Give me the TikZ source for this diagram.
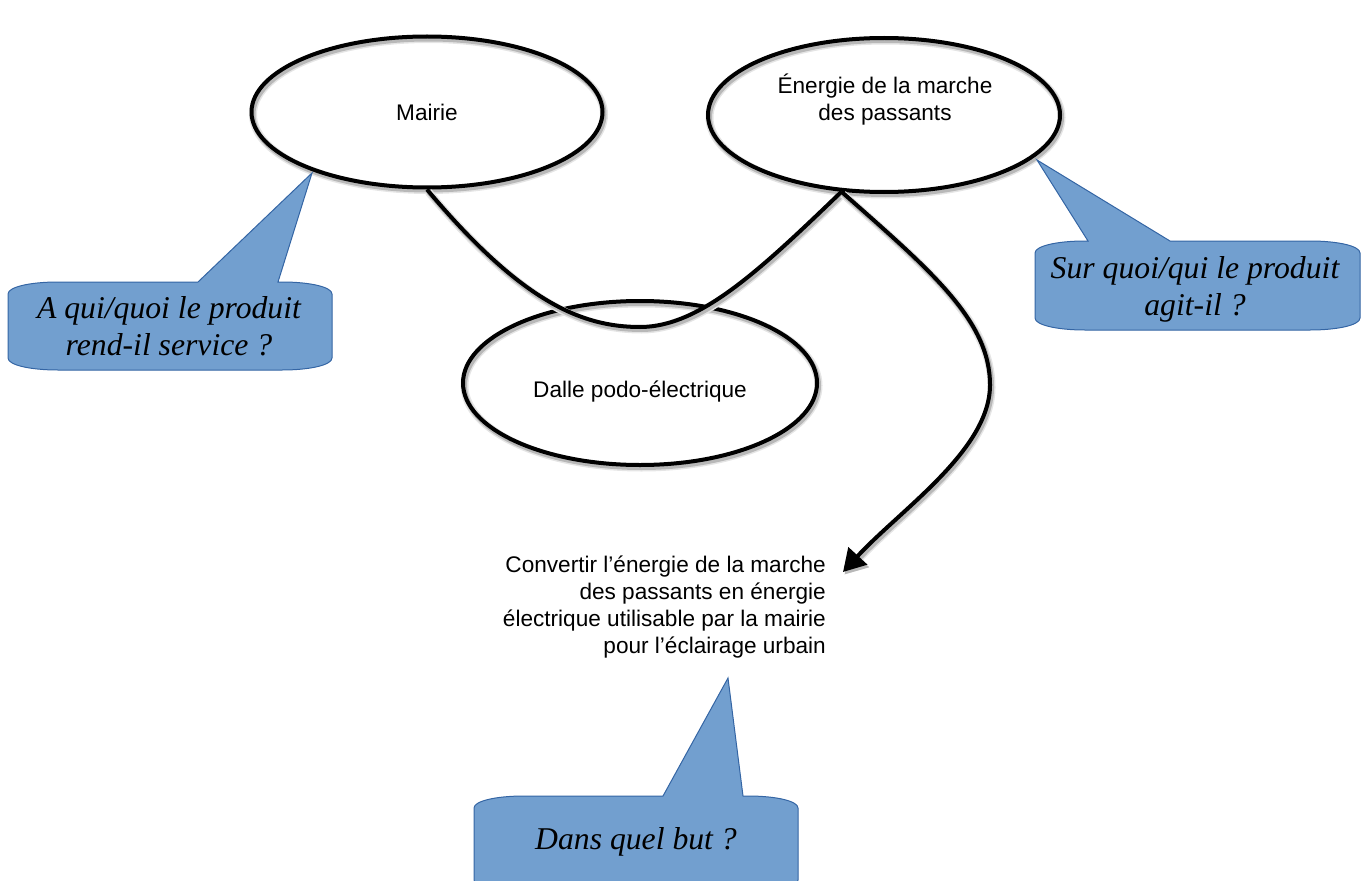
\documentclass[tikz,border=0pt]{standalone}
\usepackage{fontspec}
\setmainfont{Liberation Serif}
\setsansfont{Liberation Sans}
\usetikzlibrary{shapes.geometric, arrows.meta}

\definecolor{bubblefill}{HTML}{729FCF}
\definecolor{bubbleline}{HTML}{3465A4}

% Speech bubble: box (x1,y1)-(x2,y2) with soft corners and a pointer
% whose base runs from bx1 to bx2 on the top edge and whose tip is a named coordinate.
\newcommand{\speechbubble}[7]{%
  \path[bubble] (#1+50,#2) -- (#5,#2) -- (#7) -- (#6,#2) -- (#3-50,#2)
    .. controls (#3-22,#2) and (#3,#2+5) .. (#3,#2+12)
    -- (#3,#4-12)
    .. controls (#3,#4-5) and (#3-22,#4) .. (#3-50,#4)
    -- (#1+50,#4)
    .. controls (#1+22,#4) and (#1,#4-5) .. (#1,#4-12)
    -- (#1,#2+12)
    .. controls (#1,#2+5) and (#1+22,#2) .. cycle;}

\begin{document}
\begin{tikzpicture}[
    x=1pt, y=-1pt,
    softshadow/.style={
      preaction={draw=black!10, line width=8pt, transform canvas={xshift=1.5pt, yshift=-2.5pt}},
      preaction={draw=black!28, line width=5pt, transform canvas={xshift=1.5pt, yshift=-2.5pt}}},
    oval/.style={ellipse, softshadow, draw=black, line width=4pt, inner sep=0pt},
    ovaltext/.style={font=\sffamily\fontsize{22.6}{27}\selectfont, align=center, inner sep=0pt, text=black},
    link/.style={softshadow, draw=black, line width=4pt},
    bubble/.style={fill=bubblefill, draw=bubbleline, line width=1pt},
    bubbletext/.style={font=\rmfamily\itshape\fontsize{31.7}{37}\selectfont, align=center, inner sep=0pt}
  ]
  \useasboundingbox (0,0) rectangle (1364,880);

  % the three entities
  \node[oval, minimum width=351pt, minimum height=151pt] (mairie) at (427,112) {};
  \node[oval, minimum width=352pt, minimum height=154pt] (energie) at (884,115) {};
  \node[oval, minimum width=354pt, minimum height=164pt] (dalle) at (640,383) {};

  \node[ovaltext] (mairieText) at (427,112) {Mairie};
  \node[ovaltext] (energieText) at (885,100) {Énergie de la marche\\des passants};
  \node[ovaltext] (dalleText) at (640,392) {Dalle podo-électrique};

  % function of the product
  \node[ovaltext, align=right, anchor=east] (goal) at (826,607)
    {Convertir l’énergie de la marche\\des passants en énergie\\électrique utilisable par la mairie\\pour l’éclairage urbain};
  \coordinate (goaltip) at (843,572);

  % horns linking the user and the matter acted upon, through the product
  \draw[link] (mairie.south) .. controls (520,300) and (580,327) .. (640,327)
    .. controls (700,327) and (760,270) .. (energie.241);
  \draw[link, -{Triangle[length=22pt, width=25pt]}] (energie.241)
    .. controls (930,270) and (990,320) .. (990,385)
    .. controls (990,450) and (900,510) .. (goaltip);

  % question bubbles
  \coordinate (tipA) at (312,173);
  \coordinate (tipB) at (1037,160);
  \coordinate (tipC) at (728,678);

  \speechbubble{8}{282}{332}{370}{198}{278}{tipA}
  \speechbubble{1035}{241}{1360}{330}{1088}{1170}{tipB}
  \speechbubble{474}{796}{798}{892}{663}{743}{tipC}

  \node[bubbletext] (qA) at (169,326) {A qui/quoi le produit\\rend-il service ?};
  \node[bubbletext] (qB) at (1195,289) {Sur quoi/qui le produit\\agit-il ?};
  \node[bubbletext] (qC) at (636,842) {Dans quel but ?};
\end{tikzpicture}
\end{document}
